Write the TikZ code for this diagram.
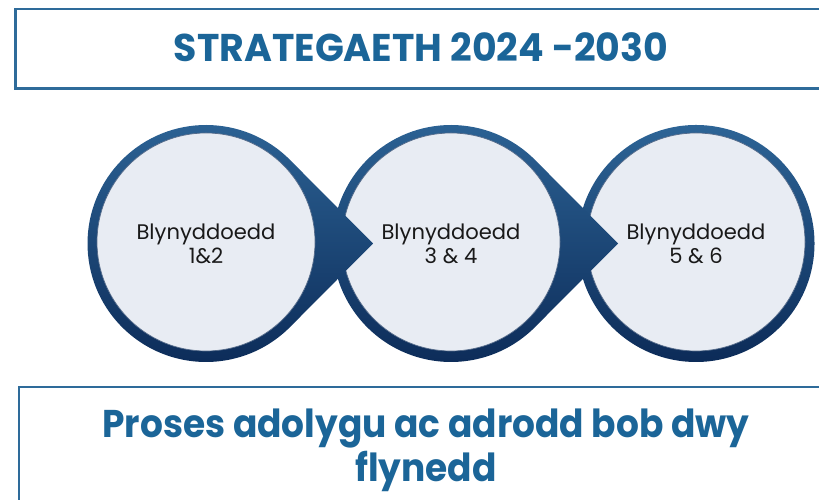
\documentclass[tikz,border=0pt]{standalone}
\usepackage{fontspec}
\setmainfont{Poppins}
\usetikzlibrary{calc}
\definecolor{titleblue}{HTML}{1B6598}
\definecolor{frameblue}{HTML}{2E6B9A}
\definecolor{ringtop}{HTML}{2D6496}
\definecolor{ringbot}{HTML}{0C2B58}
\definecolor{discfill}{HTML}{E8ECF3}

\begin{document}
\begin{tikzpicture}[
    frame/.style={draw=frameblue, line width=1.4pt},
    heading/.style={text=titleblue, align=center, font=\bfseries\fontsize{22}{25}\selectfont},
    year/.style={align=center, text=black!90, font=\fontsize{12}{13.6}\selectfont},
    ring/.style={top color=ringtop, bottom color=ringbot, draw=none},
    disc/.style={fill=discfill, draw=ringbot!70, line width=0.4pt}
]
\useasboundingbox (0,0) rectangle (16.38,10);

% title and bottom frames
\draw[frame] (16.7,9.82) -- (0.31,9.82) -- (0.31,8.23) -- (16.7,8.23);
\node[heading, xscale=0.98, transform shape] (title) at (8.42,9.06) {STRATEGAETH 2024 -2030};

\draw[frame] (16.7,2.26) -- (0.38,2.26) -- (0.38,-0.2);
\node[heading, xscale=0.93, transform shape] (review) at (8.52,1.0) {Proses adolygu ac adrodd bob dwy\\flynedd};

% circle centres
\coordinate (c12) at (4.12,5.13);
\coordinate (c34) at (9.02,5.13);
\coordinate (c56) at (13.92,5.13);

% last circle has no point
\shade[ring] (c56) circle (2.37);
\filldraw[disc] ($(c56)+(0,0.03)$) circle (2.18);

% circles with a point to the right, drawn right to left
\foreach \c in {c34,c12} {
    \shade[ring] ($(\c)+(3.34,0)$) -- ($(\c)+(44.8:2.37)$)
        arc[start angle=44.8, end angle=315.2, radius=2.37] -- cycle;
    \filldraw[disc] ($(\c)+(0,0.03)$) circle (2.18);
}

\node[year] (y12) at (c12) {Blynyddoedd\\1\&2};
\node[year] (y34) at (c34) {Blynyddoedd\\3 \& 4};
\node[year] (y56) at (c56) {Blynyddoedd\\5 \& 6};
\end{tikzpicture}
\end{document}
